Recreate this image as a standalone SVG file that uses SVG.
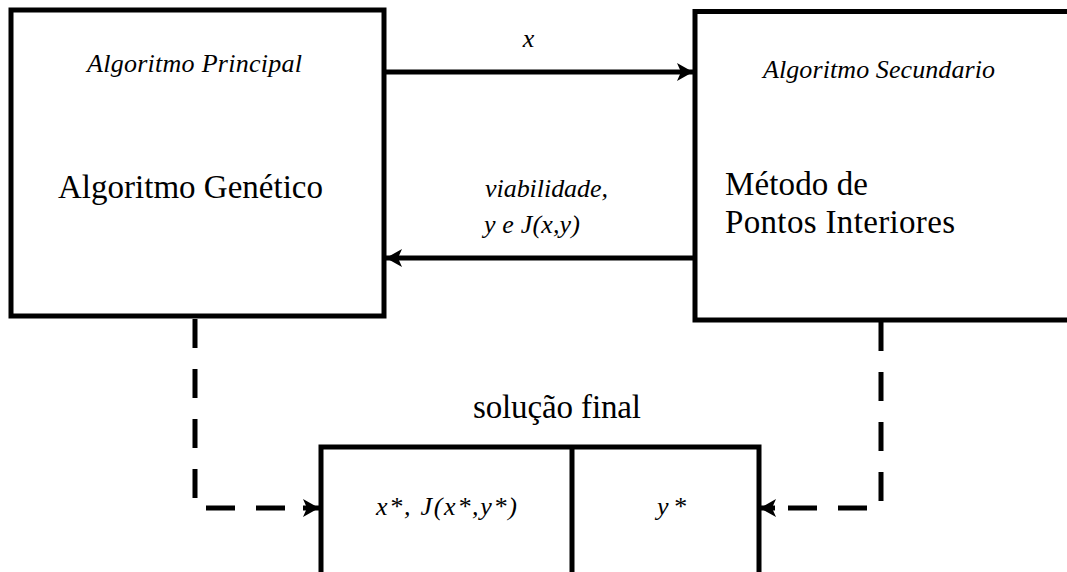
<svg xmlns="http://www.w3.org/2000/svg" width="1067" height="572" viewBox="0 0 1067 572">
<style>
.box{fill:#fff;stroke:#000;stroke-width:5}
.it{font-family:'Liberation Serif','DejaVu Serif',serif;font-style:italic;font-size:26px;fill:#000}
.rm{font-family:'Liberation Serif','DejaVu Serif',serif;font-size:33px;fill:#000}
.ln{fill:none;stroke:#000;stroke-width:5}
.dash{fill:none;stroke:#000;stroke-width:5;stroke-dasharray:29 21}
</style>
<defs>
<marker id="ah" markerUnits="userSpaceOnUse" markerWidth="20" markerHeight="22" refX="16" refY="10" orient="auto" viewBox="0 0 20 20">
<path d="M0,1 L16,10 L0,19 L4,10 Z" fill="#000"/>
</marker>
</defs>
<rect width="1067" height="572" fill="#fff"/>
<g id="principal">
<rect class="box" x="11" y="10" width="373" height="306"/>
<text class="it" x="87" y="72" textLength="215">Algoritmo Principal</text>
<text class="rm" x="58" y="198" textLength="265">Algoritmo Genético</text>
</g>
<g id="secundario">
<rect class="box" x="695" y="11.5" width="380" height="308.5"/>
<text class="it" x="763" y="78" textLength="232">Algoritmo Secundario</text>
<text class="rm" x="725" y="195" textLength="143">Método de</text>
<text class="rm" x="725" y="233" textLength="230">Pontos Interiores</text>
</g>
<g id="solucao">
<text class="rm" x="473" y="418" textLength="168">solução final</text>
<rect class="box" x="321" y="447" width="438" height="140"/>
<line class="ln" x1="572" y1="447" x2="572" y2="580"/>
<text class="it" x="376" y="515" textLength="141">x*, J(x*,y*)</text>
<text class="it" x="657" y="515" textLength="29">y*</text>
</g>
<g id="connectors">
<line class="ln" x1="386" y1="72" x2="693" y2="72" marker-end="url(#ah)"/>
<text class="it" x="528.5" y="47" text-anchor="middle">x</text>
<line class="ln" x1="693" y1="258" x2="386" y2="258" marker-end="url(#ah)"/>
<text class="it" x="485" y="197" textLength="123">viabilidade,</text>
<text class="it" x="484" y="233" textLength="96">y e J(x,y)</text>
<path class="dash" d="M195,319 V508 H303"/>
<path class="ln" d="M303,508 H319" stroke-width="0" marker-end="url(#ah)"/>
<path class="dash" d="M881,322 V508 H775"/>
<path class="ln" d="M775,508 H760" stroke-width="0" marker-end="url(#ah)"/>
</g>
</svg>
